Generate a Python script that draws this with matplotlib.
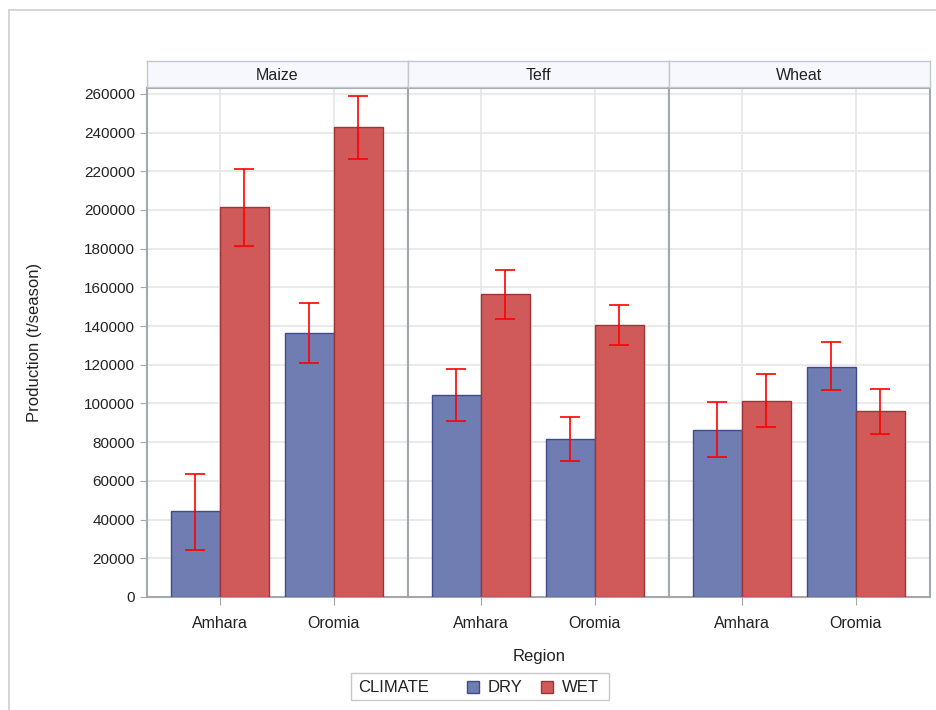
import numpy as np
import matplotlib.pyplot as plt
from matplotlib.patches import Rectangle
from matplotlib.lines import Line2D

crops = ["Maize", "Teff", "Wheat"]
regions = ["Amhara", "Oromia"]
# production (t/season), [Amhara, Oromia] per crop
dry = {"Maize": [44400, 136500], "Teff": [104500, 81500], "Wheat": [86500, 119000]}
wet = {"Maize": [201500, 243000], "Teff": [156500, 140500], "Wheat": [101500, 96000]}
dry_lo = {"Maize": [24500, 121000], "Teff": [91000, 70500], "Wheat": [72500, 107000]}
dry_hi = {"Maize": [63300, 152000], "Teff": [118000, 93000], "Wheat": [100500, 132000]}
wet_lo = {"Maize": [181500, 226500], "Teff": [143500, 130000], "Wheat": [88000, 84000]}
wet_hi = {"Maize": [221000, 259000], "Teff": [169000, 151000], "Wheat": [115000, 107500]}
yticks = np.arange(0, 260001, 20000)

W, H = 937, 710
fig = plt.figure(figsize=(W / 100, H / 100), dpi=100)
plt.rcParams['font.family'] = ['Liberation Sans', 'DejaVu Sans']

blue, blue_edge = "#6F7DB3", "#3E4C8C"
red, red_edge = "#D05A5A", "#9E3434"
frame = "#A3A8AD"
grid = "#E6E6E6"

# outer light frame
fig.add_artist(Line2D([9 / W, 9 / W], [0, 1 - 10 / H], color="#D0D0D0", lw=1.2))
fig.add_artist(Line2D([9 / W, 1], [1 - 10 / H, 1 - 10 / H], color="#D0D0D0", lw=1.2))

panel_x = [147, 408, 669]
pw = 261
top, bottom = 88, 597
x = np.arange(len(regions))
bw = 0.43

for i, crop in enumerate(crops):
    ax = fig.add_axes([panel_x[i] / W, 1 - bottom / H, pw / W, (bottom - top) / H])
    ax.bar(x - bw / 2, dry[crop], bw, color=blue, edgecolor=blue_edge, lw=1, zorder=3)
    ax.bar(x + bw / 2, wet[crop], bw, color=red, edgecolor=red_edge, lw=1, zorder=3)
    for xs, v, lo, hi in [(x - bw / 2, dry[crop], dry_lo[crop], dry_hi[crop]),
                          (x + bw / 2, wet[crop], wet_lo[crop], wet_hi[crop])]:
        v = np.array(v)
        ax.errorbar(xs, v, yerr=[v - np.array(lo), np.array(hi) - v], fmt="none",
                    ecolor="#FF0000", elinewidth=1.2, capsize=7, capthick=1.2, zorder=4)
    ax.set_xlim(-0.64, 1.65)
    ax.set_ylim(0, 263000)
    ax.set_xticks(x)
    ax.set_xticklabels(regions, fontsize=11.5)
    ax.set_yticks(yticks)
    ax.grid(True, color=grid, lw=1.2, zorder=0)
    ax.set_axisbelow(True)
    for s in ax.spines.values():
        s.set_color(frame)
        s.set_linewidth(1.5)
    ax.tick_params(axis="x", colors=frame, labelcolor="#222222", length=6, pad=8)
    if i == 0:
        ax.set_yticklabels([str(t) for t in yticks], fontsize=11)
        ax.tick_params(axis="y", colors=frame, labelcolor="#222222", length=5)
    else:
        ax.tick_params(axis="y", length=0, labelleft=False)
    # strip header
    sax = fig.add_axes([panel_x[i] / W, 1 - 87 / H, pw / W, 26 / H])
    sax.set_facecolor("#F7F8FE")
    sax.set_xticks([])
    sax.set_yticks([])
    for s in sax.spines.values():
        s.set_color("#C4C8CC")
        s.set_linewidth(1)
    sax.text(0.5, 0.45, crop, ha="center", va="center", fontsize=11.5,
             color="#222222", transform=sax.transAxes)

fig.text(35 / W, 1 - 342 / H, "Production (t/season)", ha="center", va="center",
         rotation=90, fontsize=12, color="#222222")
fig.text(539 / W, 1 - 656 / H, "Region", ha="center", va="center", fontsize=12, color="#222222")

# legend
fig.add_artist(Rectangle((351 / W, 1 - 700 / H), 258 / W, 27 / H, transform=fig.transFigure,
                         facecolor="white", edgecolor="#C8C8C8", lw=1))
fig.text(358 / W, 1 - 687 / H, "CLIMATE", ha="left", va="center", fontsize=12, color="#222222")
for lx, c, ec, lab in [(467, blue, blue_edge, "DRY"), (541, red, red_edge, "WET")]:
    fig.add_artist(Rectangle((lx / W, 1 - 693 / H), 12 / W, 12 / H, transform=fig.transFigure,
                             facecolor=c, edgecolor=ec, lw=1))
    fig.text((lx + 21) / W, 1 - 687 / H, lab, ha="left", va="center", fontsize=12, color="#222222")

fig.savefig("out.png", dpi=100)
